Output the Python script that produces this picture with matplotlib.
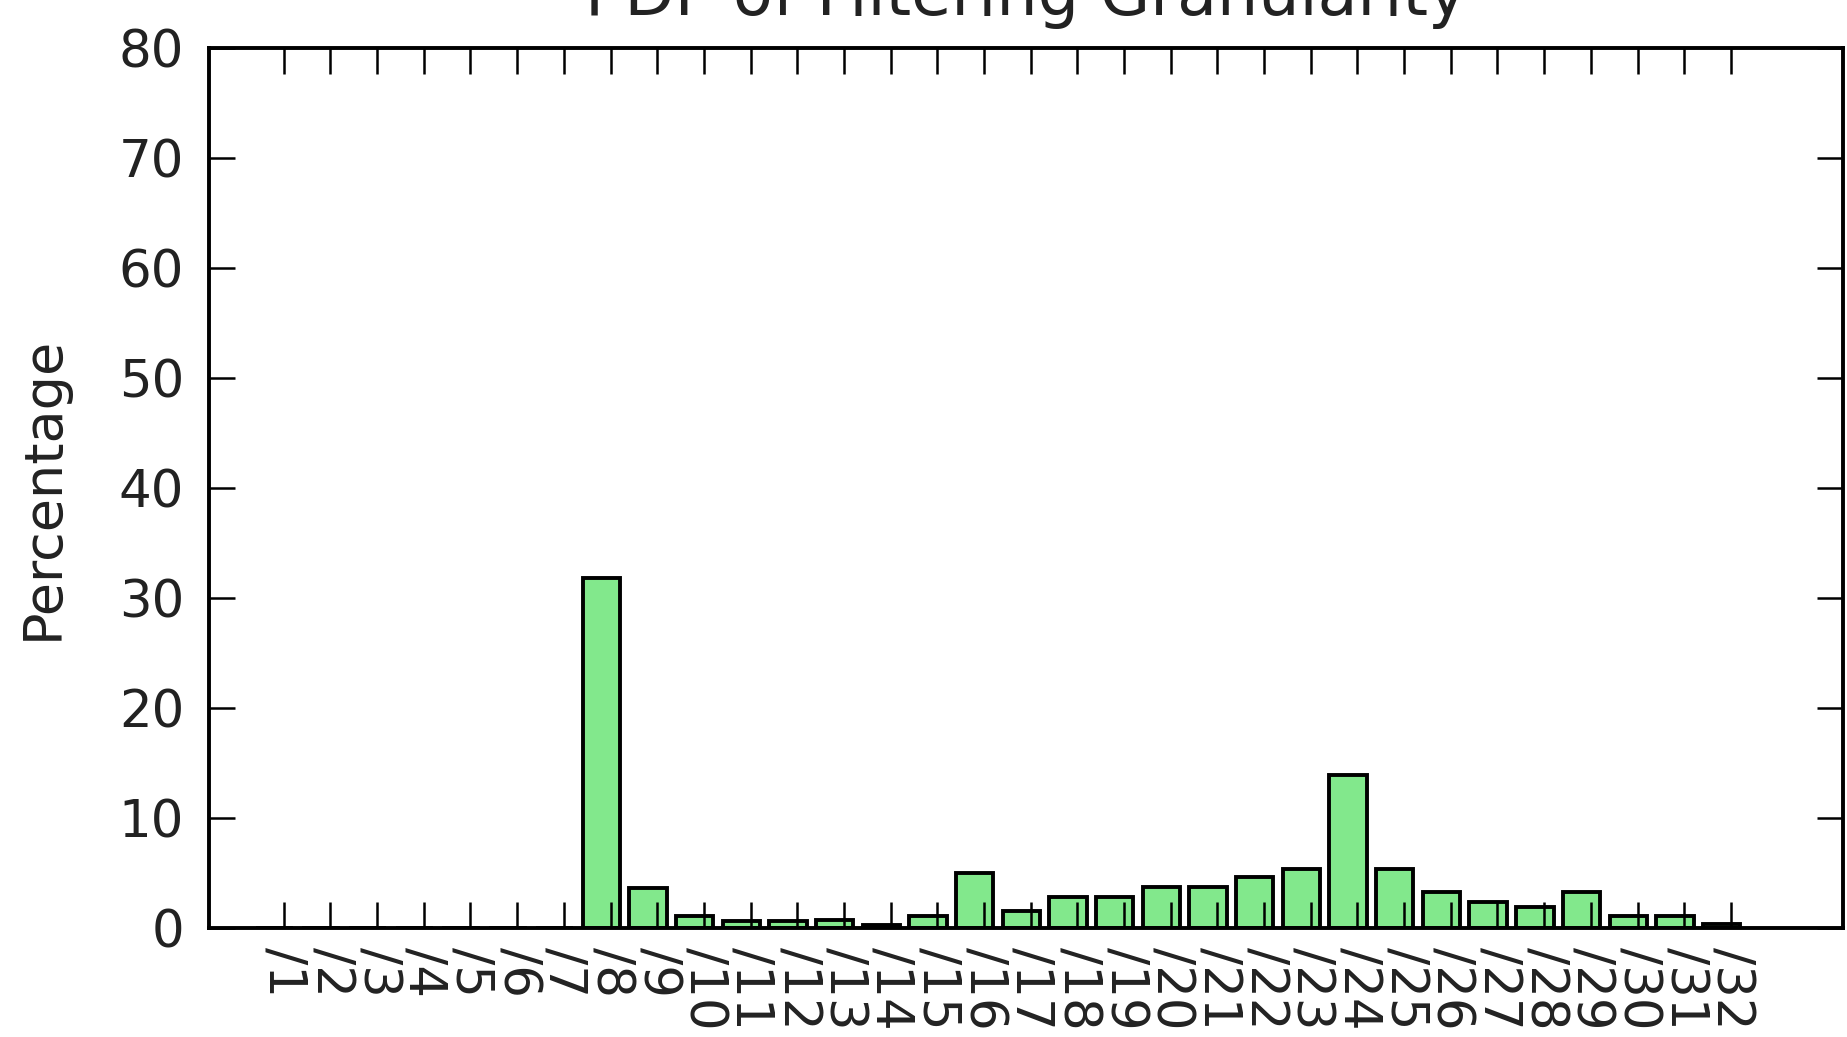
#!/usr/bin/env python3
"""PDF of filtering granularity — bar chart of prefix-length shares."""

import matplotlib
matplotlib.use('Agg')
import matplotlib.pyplot as plt
import numpy as np

# ── Data ──────────────────────────────────────────────────────────────────────
prefix_len = list(range(1, 33))
tick_labels = ['/%d' % p for p in prefix_len]
percentage = [0.0, 0.0, 0.0, 0.0, 0.0, 0.0, 0.0, 31.8,
              3.65, 1.1, 0.65, 0.65, 0.7, 0.25, 1.1, 5.0,
              1.55, 2.85, 2.85, 3.75, 3.75, 4.6, 5.4, 13.9,
              5.4, 3.25, 2.4, 1.95, 3.25, 1.1, 1.1, 0.35]

WIDTH = 0.8
FS = 37
TXT = '#222222'

# ── Plot ──────────────────────────────────────────────────────────────────────
fig = plt.figure(figsize=(18.47, 10.37), dpi=100, facecolor='white')
ax = fig.add_axes([0.1132, 0.1051, 0.9978 - 0.1132, 0.9537 - 0.1051])

x = np.array(prefix_len, dtype=float)
ax.bar(x, percentage, width=WIDTH, align='edge', color='#82e88c',
       edgecolor='black', linewidth=2.8)

ax.set_xlim(0, 35)
ax.set_ylim(0, 80)
ax.set_yticks(np.arange(0, 81, 10))
ax.set_xticks(x + 0.6)
ax.set_xticklabels(tick_labels, rotation=270, fontsize=FS)

ax.tick_params(axis='both', which='major', direction='in', length=19,
               width=1.8, top=True, right=True, labelsize=FS,
               colors='black', labelcolor=TXT)
ax.tick_params(axis='x', pad=14)
ax.tick_params(axis='y', pad=18)
for s in ax.spines.values():
    s.set_linewidth(2.8)

ax.set_ylabel('Percentage', fontsize=39, color=TXT, labelpad=36)
ax.set_title('PDF of Filtering Granularity', fontsize=47, color=TXT, pad=24)

fig.savefig('out.png', dpi=100, facecolor='white')
